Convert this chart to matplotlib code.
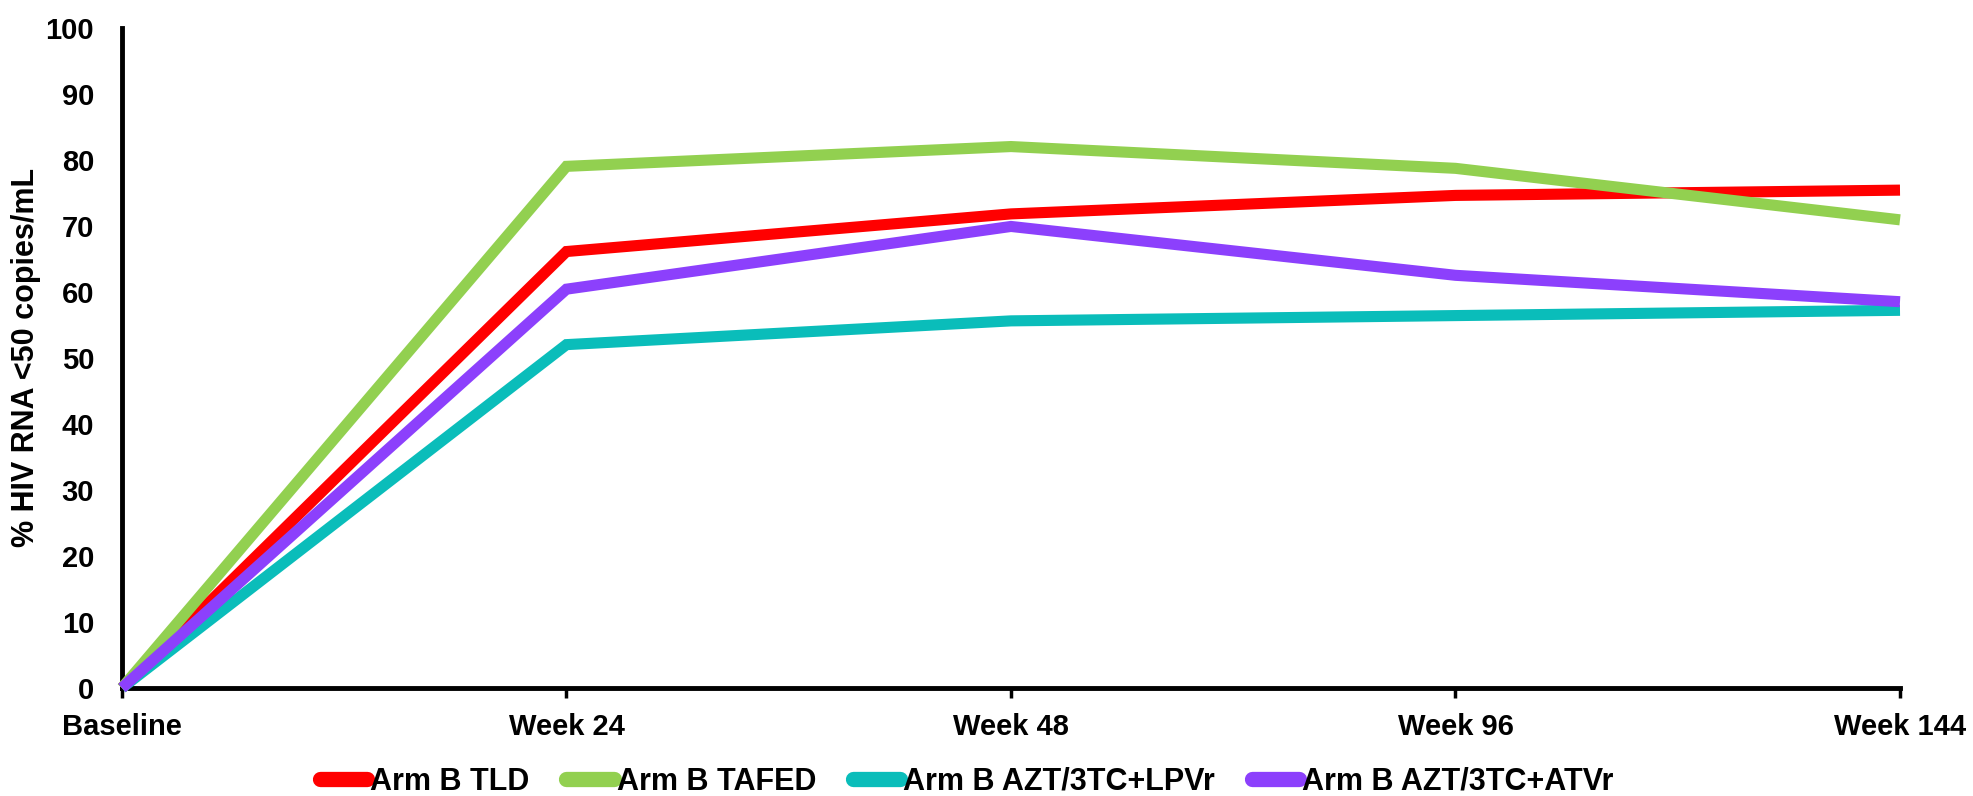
import matplotlib.pyplot as plt
from matplotlib.lines import Line2D

plt.rcParams['font.family'] = ['Liberation Sans', 'DejaVu Sans']

timepoints = ['Baseline', 'Week 24', 'Week 48', 'Week 96', 'Week 144']
arm_names = ['Arm B TLD', 'Arm B TAFED', 'Arm B AZT/3TC+LPVr', 'Arm B AZT/3TC+ATVr']
tld = [0, 66.1, 71.8, 74.6, 75.4]
tafed = [0, 79.0, 82.0, 78.7, 70.9]
lpvr = [0, 52.0, 55.6, 56.4, 57.2]
atvr = [0, 60.4, 69.9, 62.5, 58.5]
colors = ['#ff0000', '#92d050', '#0abdba', '#8c40fc']

fig = plt.figure(figsize=(19.73, 7.96), dpi=100)
ax = fig.add_axes([0.0618, 0.1357, 0.9012, 0.8295])

x = range(len(timepoints))
series = [tld, tafed, lpvr, atvr]
# drawing order: red under green, teal under purple
zorders = [3, 5, 4, 6]
for vals, c, z in zip(series, colors, zorders):
    ax.plot(x, vals, color=c, lw=8, solid_capstyle='butt',
            solid_joinstyle='miter', zorder=z, clip_on=False)

ax.set_xlim(0, len(timepoints) - 1)
ax.set_ylim(0, 100)
ax.set_yticks(range(0, 101, 10))
ax.set_xticks(list(x))
ax.set_xticklabels(timepoints)

for s in ['top', 'right']:
    ax.spines[s].set_visible(False)
for s in ['left', 'bottom']:
    ax.spines[s].set_linewidth(3.5)
    ax.spines[s].set_zorder(2)

ax.tick_params(axis='y', length=0, pad=20, labelsize=21)
ax.tick_params(axis='x', length=7, width=2.5, pad=11, labelsize=21)
for lab in ax.get_yticklabels() + ax.get_xticklabels():
    lab.set_fontweight('bold')

fig.text(0.013, 0.1357 + 0.8295 / 2, '% HIV RNA <50 copies/mL', rotation=90,
         va='center', ha='center', fontsize=22, fontweight='bold')

handles = [Line2D([0], [0], color=c, lw=11, solid_capstyle='round') for c in colors]
leg = fig.legend(handles, arm_names, loc='center', ncol=4,
                 bbox_to_anchor=(0.49, 0.018), frameon=False,
                 prop={'weight': 'bold', 'size': 22},
                 handlelength=1.55, handletextpad=0.1, columnspacing=1.2,
                 borderpad=0.1)

fig.savefig('out.png', dpi=100)
